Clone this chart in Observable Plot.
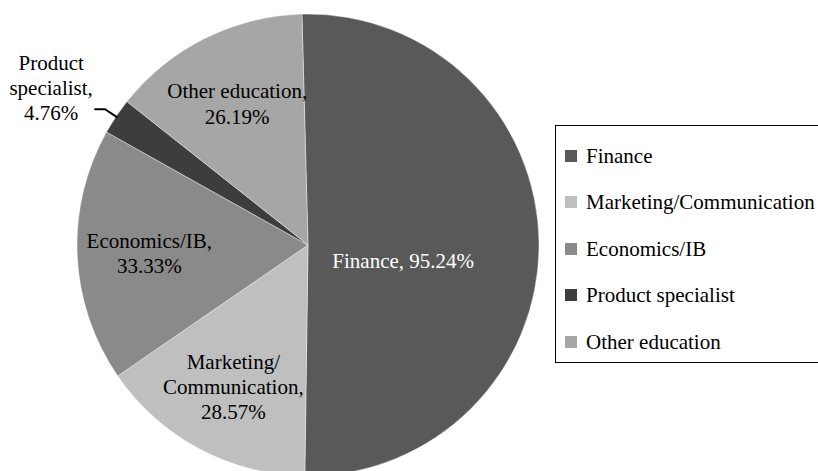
<!DOCTYPE html>
<html><head><meta charset="utf-8">
<script src="https://cdn.jsdelivr.net/npm/d3@7"></script>
<script src="https://cdn.jsdelivr.net/npm/@observablehq/plot@0.6"></script>
<style>
body{margin:0;background:#fff;}
#wrap{position:relative;width:818px;height:471px;overflow:hidden;font-family:"Liberation Serif",Tinos,Times,"DejaVu Serif",serif;}
#wrap svg{position:absolute;left:0;top:0;}
#legend{position:absolute;left:555px;top:125px;width:290px;height:238px;border:1px solid #000;box-sizing:border-box;background:#fff;}
.item{position:absolute;left:9px;height:24px;line-height:24px;display:flex;align-items:center;font-size:21px;color:#000;white-space:nowrap;}
.sw{width:12px;height:12px;margin-right:9px;flex:none;}
</style></head><body><div id="wrap"></div>
<script>
// ---- data ----
const categories = ["Finance", "Marketing/Communication", "Economics/IB", "Product specialist", "Other education"];
const sliceLabels = ["Finance,", "Marketing/\nCommunication,", "Economics/IB,", "Product\nspecialist,", "Other education,"];
const values = [95.24, 28.57, 33.33, 4.76, 26.19];
const colors = ["#595959", "#bfbfbf", "#8a8a8a", "#3d3d3d", "#a6a6a6"];

// ---- layout helpers ----
const font = "'Liberation Serif', Tinos, Times, 'DejaVu Serif', serif";
const total = d3.sum(values);
const data = categories.map((c, i) => ({
  category: c,
  value: values[i],
  share: values[i] / total,
  label: sliceLabels[i] + (values[i] / total > 0.4 ? " " : "\n") + values[i].toFixed(2) + "%"
}));
const startOffset = -1.5 * Math.PI / 180;
const arcs = d3.pie().sort(null).value(d => d.value)
  .startAngle(startOffset).endAngle(startOffset + 2 * Math.PI)(data);
arcs.forEach(a => { a.data.mid = (a.startAngle + a.endAngle) / 2; });

const color = Plot.scale({color: {type: "ordinal", domain: categories, range: colors}});

const polar = (d, r) => ({x: r * Math.sin(d.mid), y: r * Math.cos(d.mid)});
const bigR = 0.41, midR = 0.69, elbowR = 1.06;

const big = data.filter(d => d.share > 0.4).map(d => ({...d, ...polar(d, bigR)}));
const mid = data.filter(d => d.share >= 0.05 && d.share <= 0.4).map(d => ({...d, ...polar(d, midR)}));
const small = data.filter(d => d.share < 0.05);
const leaders = small.flatMap(d => {
  const e = polar(d, 1), k = polar(d, elbowR);
  return [
    {category: d.category, ...e},
    {category: d.category, ...k},
    {category: d.category, x: k.x - 0.043, y: k.y}
  ];
});
const smallText = small.map(d => { const k = polar(d, elbowR); return {...d, x: k.x - 0.043, y: k.y}; });

const pieMark = (index, scales) => {
  const cx = scales.x(0), cy = scales.y(0), r = scales.x(1) - scales.x(0);
  const g = d3.create("svg:g").attr("transform", `translate(${cx},${cy})`);
  const arc = d3.arc().innerRadius(0).outerRadius(r);
  g.selectAll("path").data(arcs).join("path")
    .attr("d", arc)
    .attr("fill", d => color.apply(d.data.category))
    .attr("stroke", "#ffffff").attr("stroke-opacity", 0.5).attr("stroke-width", 0.8);
  return g.node();
};

const plot = Plot.plot({
  width: 818,
  height: 471,
  margin: 0,
  x: {domain: [-1, 1], range: [77, 539], axis: null},
  y: {domain: [-1, 1], range: [476, 14], axis: null},
  style: {fontFamily: font, background: "transparent"},
  marks: [
    pieMark,
    Plot.text(big, {x: "x", y: "y", text: "label", fill: "white", fontSize: 21, fontFamily: font, dy: 16}),
    Plot.text(mid, {x: "x", y: "y", text: "label", fill: "black", fontSize: 21, fontFamily: font, lineHeight: 1.2}),
    Plot.line(leaders, {x: "x", y: "y", z: "category", stroke: "black", strokeWidth: 2}),
    Plot.text(smallText, {x: "x", y: "y", text: "label", fill: "black", fontSize: 21, fontFamily: font, lineHeight: 1.2, dx: -44, dy: -22})
  ]
});

const wrap = document.getElementById("wrap");
wrap.appendChild(plot);

// legend
const legend = document.createElement("div");
legend.id = "legend";
categories.forEach((c, i) => {
  const item = document.createElement("div");
  item.className = "item";
  item.style.top = (29.5 + i * 46.6 - 12) + "px";
  const sw = document.createElement("span");
  sw.className = "sw";
  sw.style.background = color.apply(c);
  const t = document.createElement("span");
  t.textContent = c;
  item.appendChild(sw);
  item.appendChild(t);
  legend.appendChild(item);
});
wrap.appendChild(legend);
</script>
</body></html>
